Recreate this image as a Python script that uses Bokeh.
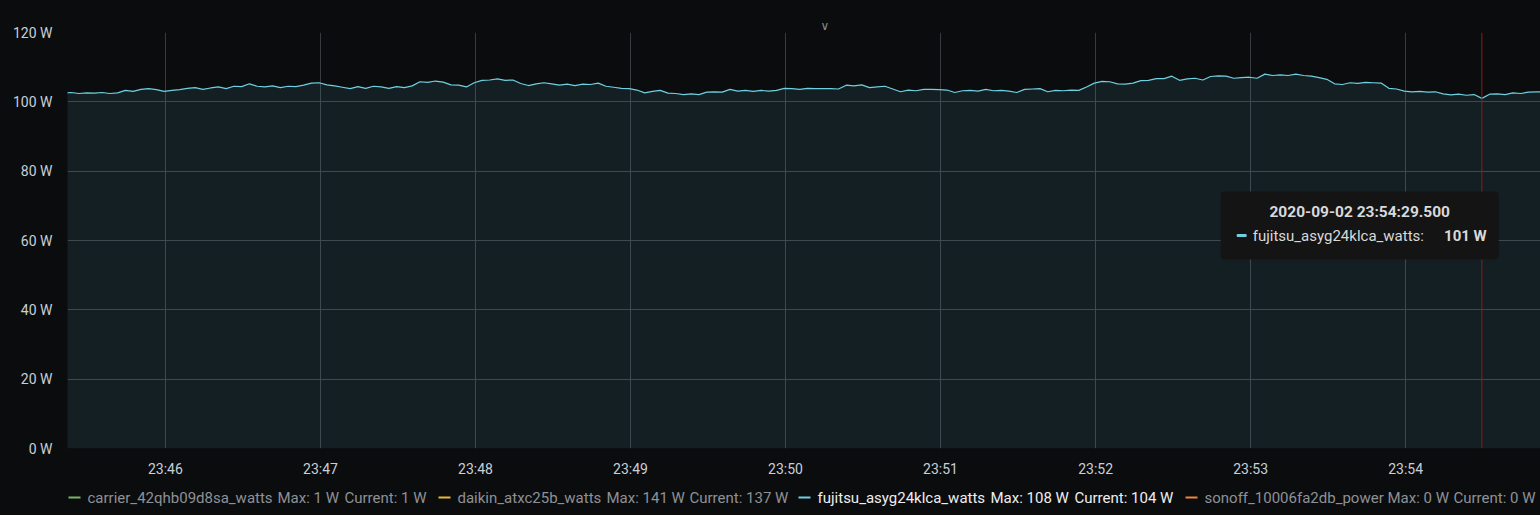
import pandas as pd
from bokeh.plotting import figure
from bokeh.layouts import column
from bokeh.models import (Range1d, FixedTicker, PrintfTickFormatter, DatetimeTickFormatter,
                          Span, BoxAnnotation, Label, ColumnDataSource)
from bokeh.core.properties import value
from bokeh.embed import file_html
from bokeh.resources import INLINE

# ---------------- data ----------------
series_start = "2020-09-02 23:45:20.5"
sample_step_s = 3
fujitsu_watts = [
    102.5, 102.7, 102.4, 102.6, 102.5, 102.7, 102.4, 102.6, 103.3, 103.0,
    103.6, 103.8, 103.5, 103.0, 103.3, 103.5, 103.9, 104.1, 103.6, 104.0,
    104.3, 103.8, 104.5, 104.4, 105.2, 104.5, 104.3, 104.6, 104.1, 104.5,
    104.4, 104.8, 105.4, 105.5, 104.9, 104.6, 104.2, 103.8, 104.4, 103.9,
    104.5, 104.3, 103.9, 104.4, 104.1, 104.6, 105.8, 105.6, 106.0, 105.7,
    104.9, 104.8, 104.3, 105.5, 106.2, 106.3, 106.6, 106.2, 106.3, 105.3,
    104.7, 105.2, 105.5, 105.2, 104.8, 105.1, 104.7, 105.1, 105.0, 105.4,
    104.5, 104.2, 103.9, 103.8, 103.4, 102.6, 103.0, 103.3, 102.5, 102.4,
    102.1, 102.3, 102.1, 102.8, 102.9, 102.8, 103.6, 103.1, 103.3, 103.0,
    103.3, 103.1, 103.3, 103.9, 103.8, 103.6, 103.9, 103.8, 103.8, 103.8,
    103.7, 104.8, 104.6, 104.9, 104.1, 104.3, 104.5, 103.7, 102.9, 103.4,
    103.2, 103.6, 103.6, 103.5, 103.4, 102.7, 103.2, 103.3, 103.1, 103.6,
    103.2, 103.3, 103.1, 102.7, 103.6, 103.7, 103.8, 102.9, 103.3, 103.2,
    103.4, 103.3, 104.3, 105.4, 105.9, 105.8, 105.2, 105.1, 105.4, 106.1,
    106.2, 106.7, 106.7, 107.4, 106.2, 106.6, 106.8, 106.3, 107.3, 107.5,
    107.4, 106.8, 107.0, 107.1, 106.8, 108.0, 107.6, 107.8, 107.6, 108.0,
    107.6, 107.4, 107.0, 106.5, 105.2, 105.0, 105.5, 105.3, 105.6, 105.5,
    105.4, 103.9, 103.7, 103.1, 102.9, 103.0, 102.8, 102.9, 102.3, 102.0,
    102.2, 101.9, 102.1, 101.0, 102.2, 102.3, 102.1, 102.6, 102.4, 102.8,
    102.9, 102.8,
]
x_start = "2020-09-02 23:45:22.1"
x_end = "2020-09-02 23:54:52.2"
x_ticks = ["23:46", "23:47", "23:48", "23:49", "23:50", "23:51", "23:52", "23:53", "23:54"]
y_ticks = [0, 20, 40, 60, 80, 100, 120]

legend_names = ["carrier_42qhb09d8sa_watts", "daikin_atxc25b_watts",
                "fujitsu_asyg24klca_watts", "sonoff_10006fa2db_power"]
legend_max = ["1 W", "141 W", "108 W", "0 W"]
legend_current = ["1 W", "137 W", "104 W", "0 W"]
legend_colors = ["#7eb26d", "#eab839", "#6ed0e0", "#ef843c"]
legend_active = [False, False, True, False]

hover_time = "2020-09-02 23:54:29.500"
hover_series = "fujitsu_asyg24klca_watts:"
hover_value = "101 W"

# ---------------- styling ----------------
BG = "#0b0c0e"
GRID = "#373a3e"
TXT = "#c7d0d9"
FONT = "Roboto"
LINE = "#6ed0e0"

def ms(ts):
    return pd.Timestamp(ts).value // 10**6

times = pd.date_range(pd.Timestamp(series_start), periods=len(fujitsu_watts),
                      freq=pd.Timedelta(seconds=sample_step_s))
src = ColumnDataSource(dict(t=times, w=fujitsu_watts))

W = 1540
FL, FT, FB = 67, 32, 448          # frame left / top / bottom in page px
AXB = 31                          # space for the time axis
H = FB + AXB
p = figure(width=W, height=H, x_axis_type="datetime", output_backend="svg",
           toolbar_location=None, min_border_left=FL, min_border_right=0,
           min_border_top=FT, min_border_bottom=AXB,
           background_fill_color=BG, border_fill_color=BG, outline_line_color=None,
           x_range=Range1d(pd.Timestamp(x_start), pd.Timestamp(x_end)),
           y_range=Range1d(0, 120))

# small panel chevron above the plot
p.title.text = "∨"
p.title.text_font = "DejaVu Sans"
p.title.text_font_size = "12px"
p.title.text_font_style = "normal"
p.title.text_color = "#868a90"
p.title.align = "left"
p.title.offset = 825 - FL - 5
p.title.standoff = 0
p.title.vertical_align = "bottom"

p.varea(x="t", y1=0, y2="w", source=src, fill_color=LINE, fill_alpha=0.1)
p.line(x="t", y="w", source=src, line_color=LINE, line_width=1.2)

day = "2020-09-02 "
p.xaxis.ticker = FixedTicker(ticks=[ms(day + t) for t in x_ticks])
p.xaxis.formatter = DatetimeTickFormatter(milliseconds="%H:%M", seconds="%H:%M",
                                          minsec="%H:%M", minutes="%H:%M",
                                          hourmin="%H:%M", hours="%H:%M")
p.yaxis.ticker = FixedTicker(ticks=y_ticks)
p.yaxis.formatter = PrintfTickFormatter(format="%d W")
for ax in (p.xaxis[0], p.yaxis[0]):
    ax.axis_line_color = None
    ax.major_tick_line_color = None
    ax.minor_tick_line_color = None
    ax.major_label_text_color = TXT
    ax.major_label_text_font = FONT
    ax.major_label_text_font_size = "14px"
p.yaxis.major_label_standoff = 9
p.xaxis.major_label_standoff = 6
p.xgrid.grid_line_color = GRID
p.ygrid.grid_line_color = GRID

# hover crosshair
p.add_layout(Span(location=ms(hover_time), dimension="height",
                  line_color="#8c1c1c", line_width=1))

# page px -> data helpers for the tooltip annotation
PXMIN = 155.0
def tx(px):
    return ms(x_start) + (px - FL) * 60000.0 / PXMIN
def wy(py):
    return (FB - py) / float(FB - FT) * 120

p.add_layout(BoxAnnotation(left=tx(1220), right=tx(1498), top=wy(191), bottom=wy(259),
                           fill_color="#141414", fill_alpha=1.0, line_color=None,
                           border_radius=4))
p.add_layout(Label(x=tx(1359), y=wy(211), text=hover_time, text_align="center",
                   text_baseline="middle", text_color="#d8d9da", text_font=FONT,
                   text_font_size="15.5px", text_font_style="bold"))
p.add_layout(BoxAnnotation(left=tx(1236), right=tx(1246), top=wy(233.5), bottom=wy(236.5),
                           fill_color=LINE, fill_alpha=1.0, line_color=None, border_radius=1))
p.add_layout(Label(x=tx(1252), y=wy(235), text=hover_series, text_align="left",
                   text_baseline="middle", text_color="#d8d9da", text_font=FONT,
                   text_font_size="15px"))
p.add_layout(Label(x=tx(1486), y=wy(235), text=hover_value, text_align="right",
                   text_baseline="middle", text_color="#d8d9da", text_font=FONT,
                   text_font_size="15px", text_font_style="bold"))

# ---------------- legend strip (its frame lines up with the plot frame) ----------------
LH = 515 - H
lg = figure(width=W, height=LH, output_backend="svg", toolbar_location=None,
            min_border_left=FL, min_border_right=0, min_border_top=0, min_border_bottom=0,
            x_range=Range1d(FL, W), y_range=Range1d(0, LH),
            background_fill_color=BG, border_fill_color=BG, outline_line_color=None,
            x_axis_location=None, y_axis_location=None)
lg.xgrid.visible = False
lg.ygrid.visible = False

dash_x = [68, 438, 798, 1185]
name_x = [87, 457, 817, 1204]
max_x = [277, 606, 990, 1387]
cur_x = [344, 689, 1074, 1453]
ly = LH - (497 - H)
lg.segment(x0=dash_x, x1=[d + 12 for d in dash_x], y0=[ly] * 4, y1=[ly] * 4,
           line_color=legend_colors, line_width=2)
txt_col = ["#eeeeee" if a else "#8e9196" for a in legend_active]
lg.text(x=name_x, y=[ly] * 4, text=legend_names, text_color=txt_col,
        text_font=value(FONT), text_font_size="15px", text_baseline="middle")
lg.text(x=max_x, y=[ly] * 4, text=["Max: " + m for m in legend_max],
        text_color=txt_col, text_font=value(FONT), text_font_size="15px", text_baseline="middle")
lg.text(x=cur_x, y=[ly] * 4, text=["Current: " + c for c in legend_current],
        text_color=txt_col, text_font=value(FONT), text_font_size="15px", text_baseline="middle")

layout = column(p, lg, spacing=0, styles={"background-color": BG})
open("out.html", "w").write(file_html(layout, INLINE))
